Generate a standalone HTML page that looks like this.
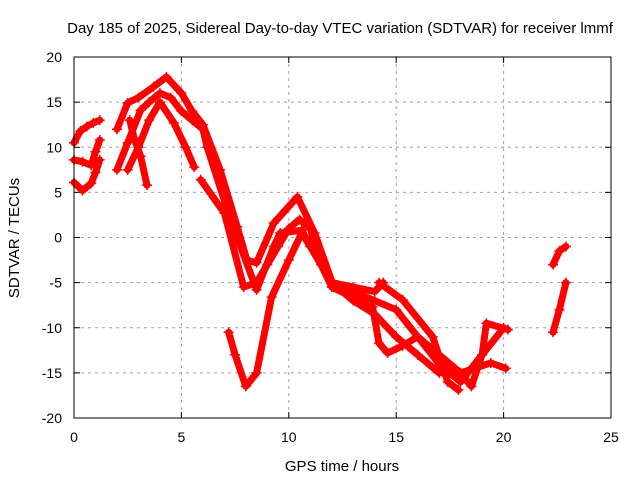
<!DOCTYPE html>
<html><head><meta charset="utf-8"><style>
html,body{margin:0;padding:0;background:#fff;}
svg{display:block;font-family:"Liberation Sans",sans-serif;}
</style></head><body>
<svg id="chart" width="640" height="480">
<text x="340" y="33" text-anchor="middle" font-size="15">Day 185 of 2025, Sidereal Day-to-day VTEC variation (SDTVAR) for receiver lmmf</text>
<text x="342" y="471" text-anchor="middle" font-size="15">GPS time / hours</text>
<text transform="translate(19,238) rotate(-90)" text-anchor="middle" font-size="15">SDTVAR / TECUs</text>
<g id="grid"></g><g id="ticks"></g><g id="series"></g>
<rect x="74" y="57" width="537" height="361" fill="none" stroke="#000" stroke-width="1"/>
</svg>
<script>
const xTicks=[0,5,10,15,20,25];
const yTicks=[-20,-15,-10,-5,0,5,10,15,20];
const trackA_x=[0,0.3,0.6,0.9,1.2];
const trackA_y=[10.5,11.8,12.3,12.7,13];
const trackB_x=[0,0.4,0.8,1.0,1.2];
const trackB_y=[8.6,8.4,8.0,9.5,10.8];
const trackC_x=[0,0.4,0.8,1.0,1.2];
const trackC_y=[6.1,5.2,6.0,7.2,8.6];
const track1_x=[2,2.5,3,3.7,4.3,5,5.5,6,6.8,7.6,8.05,8.5,9.3,10.4,11.2,12.1,13,14,15,16,17,18,19,20];
const track1_y=[12,14.9,15.5,16.7,17.8,16,14,12.5,7.5,1.2,-2.5,-2.8,1.6,4.5,0.5,-5.5,-6,-7,-8,-11,-14,-16,-13,-10];
const track2_x=[2,2.5,3.1,3.5,4,4.5,5,5.5,6,6.2,7.3,8.5,9.3,9.6,10.6,11,12,13,14,15,16,17,18,19.4,20.1];
const track2_y=[7.5,10.5,14.1,15,16,15.5,14,13,12,10,1.9,-5.8,-1,0.5,0.8,-1,-5,-7,-8.5,-11,-13,-15,-15,-13.9,-14.5];
const track3_x=[2.5,3,3.5,4,4.65,5.2,5.6];
const track3_y=[7.5,10,13,15,12.7,10,7.8];
const track3b_x=[5.9,7,7.9,8.5,9,9.5,10,10.5,11,11.5,12,13.9,14.2,14.6,15.3,16,17,18,18.5,19,19.2,20.2];
const track3b_y=[6.4,2.7,-5.5,-5,-3,-1,1,2,1,-3,-5.5,-7.7,-11.7,-12.8,-12,-11,-13,-15,-16.5,-13,-9.5,-10.2];
const track4_x=[2.6,2.8,3.1,3.4];
const track4_y=[13,11,9,5.8];
const track5_x=[7.2,7.5,8,8.5,9.2,10,10.6,11,12,13,14,14.4];
const track5_y=[-10.5,-13,-16.5,-15,-6.6,-2.5,0.5,-1,-5,-5.5,-6,-5];
const track6_x=[22.3,22.6,22.9];
const track6_y=[-10.5,-8,-5];
const track7_x=[22.3,22.6,22.9];
const track7_y=[-3,-1.5,-1];
const track8_x=[14.2,15.3,16.7,17.4,17.9];
const track8_y=[-5,-6.9,-11,-16,-16.9];
const tracks=[[trackA_x,trackA_y],[trackB_x,trackB_y],[trackC_x,trackC_y],[track1_x,track1_y],[track2_x,track2_y],[track3_x,track3_y],[track3b_x,track3b_y],[track4_x,track4_y],[track5_x,track5_y],[track6_x,track6_y],[track7_x,track7_y],[track8_x,track8_y]];
const NS="http://www.w3.org/2000/svg";
function sx(v){return 74+(v-0)/25*537;}
function sy(v){return 418-(v+20)/40*361;}
const grid=document.getElementById('grid'),ticks=document.getElementById('ticks'),ser=document.getElementById('series');
function mk(tag,attrs,parent){const e=document.createElementNS(NS,tag);for(const k in attrs)e.setAttribute(k,attrs[k]);parent.appendChild(e);return e;}
xTicks.forEach(t=>{
  const x=sx(t);
  if(t>0&&t<25){const g=mk('line',{x1:x,x2:x,y1:57,y2:418,stroke:'#a0a0a0','stroke-dasharray':'3,4'},grid);
  
  }
  mk('line',{x1:x,x2:x,y1:418,y2:412,stroke:'#000'},ticks);
  mk('line',{x1:x,x2:x,y1:57,y2:63,stroke:'#000'},ticks);
  const l=mk('text',{x:x,y:442,'text-anchor':'middle','font-size':14},ticks);
  l.textContent=t;
  
  
});
yTicks.forEach(t=>{
  const y=sy(t);
  if(t>-20&&t<20){const g=mk('line',{x1:74,x2:611,y1:y,y2:y,stroke:'#a0a0a0','stroke-dasharray':'3,4'},grid);
  
  }
  mk('line',{x1:74,x2:80,y1:y,y2:y,stroke:'#000'},ticks);
  mk('line',{x1:611,x2:605,y1:y,y2:y,stroke:'#000'},ticks);
  const l=mk('text',{x:62,y:y+5,'text-anchor':'end','font-size':14},ticks);
  l.textContent=t;
  
  
});
tracks.forEach((tr,i)=>{
  const xs=tr[0],ys=tr[1];
  const pts=xs.map((x,j)=>sx(x).toFixed(1)+','+sy(ys[j]).toFixed(1)).join(' ');
  const p=mk('polyline',{points:pts,fill:'none',stroke:'#f00','stroke-width':7,'stroke-linejoin':'round','stroke-linecap':'round'},ser);
  
  
  xs.forEach((x,j)=>{
    const cx=sx(x),cy=sy(ys[j]);
    const m=mk('path',{d:`M${cx-5},${cy}h10M${cx},${cy-5}v10`,stroke:'#f00','stroke-width':1.5},ser);
    
    
  });
});
</script>
</body></html>
